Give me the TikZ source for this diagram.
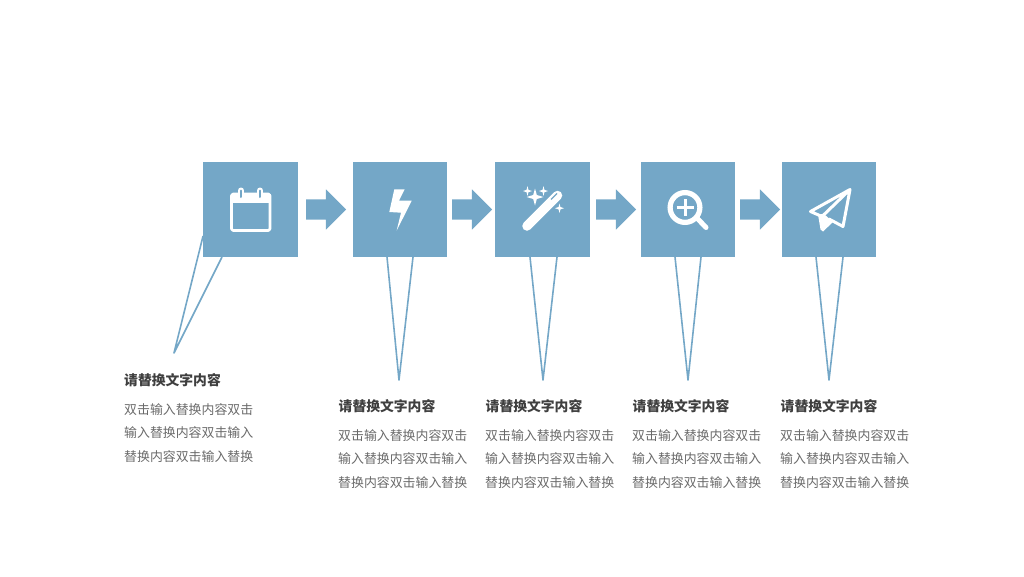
\documentclass[tikz,border=0pt]{standalone}
\usepackage{fontspec}
\newfontfamily\cjk{Noto Sans CJK SC}
\usetikzlibrary{shapes.arrows}
\definecolor{stepblue}{HTML}{74A7C7}
\definecolor{titlegray}{HTML}{3F3F3F}
\definecolor{bodygray}{HTML}{6A6A6A}

\begin{document}
\begin{tikzpicture}[x=1pt, y=-1pt,
		stepbox/.style={fill=stepblue, inner sep=0pt, minimum width=94.5pt, minimum height=95pt},
		steparrow/.style={single arrow, fill=stepblue, inner sep=0pt, text height=20pt, text depth=0pt, minimum height=40pt, single arrow head extend=10pt, single arrow tip angle=90},
		spike/.style={stepblue, line width=1.6pt, line join=round},
		headtext/.style={anchor=west, inner sep=0pt, text=titlegray, font=\cjk\fontsize{13.8}{16}\selectfont\bfseries},
		bodytext/.style={anchor=west, inner sep=0pt, align=left, text=bodygray, font=\cjk\fontsize{12.9}{23.5}\selectfont},
		iconline/.style={draw=white, line width=3pt, line join=round, line cap=round}]
	\useasboundingbox (0,0) rectangle (1024,576);

	% Draw the boxes
	\node[stepbox] (box1) at (250.5,209.5) {};
	\node[stepbox] (box2) at (400,209.5) {};
	\node[stepbox] (box3) at (542.5,209.5) {};
	\node[stepbox] (box4) at (688,209.5) {};
	\node[stepbox] (box5) at (829,209.5) {};

	% Draw the arrows between the boxes
	\node[steparrow] (arrow1) at (321,209.5) {};
	\node[steparrow] (arrow2) at (467,209.5) {};
	\node[steparrow] (arrow3) at (611,209.5) {};
	\node[steparrow] (arrow4) at (755,209.5) {};

	% Draw the spikes under the boxes
	\coordinate (tip1) at (174,353);
	\coordinate (tip2) at (399,380);
	\coordinate (tip3) at (543,380);
	\coordinate (tip4) at (688,380);
	\coordinate (tip5) at (829,380);
	\draw[spike] (box1.west |- 0,236) -- (tip1) -- (222,257);
	\draw[spike] (387,257) -- (tip2) -- (413,257);
	\draw[spike] (530,257) -- (tip3) -- (557,257);
	\draw[spike] (675,257) -- (tip4) -- (701,257);
	\draw[spike] (816,257) -- (tip5) -- (843,257);

	% Calendar
	\draw[iconline, line width=2.6pt, rounded corners=1.5pt] (231.5,194) rectangle (270,230.5);
	\fill[white] (231,194) rectangle (270.5,203);
	\draw[white, line width=6pt, line cap=round] (241,190.5) -- (241,197);
	\draw[white, line width=6pt, line cap=round] (260,190.5) -- (260,197);
	\draw[stepblue, line width=2pt, line cap=round] (241,190.5) -- (241,197);
	\draw[stepblue, line width=2pt, line cap=round] (260,190.5) -- (260,197);

	% Bolt
	\fill[white] (394.3,189.3) -- (404.6,189.3) -- (399,200.7) -- (411.7,200.7) -- (396.7,230.5) -- (401,212.7) -- (389.3,212) -- cycle;

	% Wand
	\draw[white, line width=9.5pt, line cap=round] (527,226) -- (557.5,195.5);
	\draw[stepblue, line width=1.2pt] (551,199.5) -- (557,193.5);
	\fill[white] (535,188.5) -- (536.8,195) -- (543.5,197) -- (536.8,199) -- (535,205.5) -- (533.2,199) -- (526.5,197) -- (533.2,195) -- cycle;
	\fill[white] (527.5,186) -- (528.4,189.8) -- (532,191) -- (528.4,192.2) -- (527.5,196) -- (526.6,192.2) -- (523,191) -- (526.6,189.8) -- cycle;
	\fill[white] (543.5,186) -- (544.4,189.8) -- (548,191) -- (544.4,192.2) -- (543.5,196) -- (542.6,192.2) -- (539,191) -- (542.6,189.8) -- cycle;
	\fill[white] (559.5,203.5) -- (560.4,207) -- (564,208.2) -- (560.4,209.4) -- (559.5,213) -- (558.6,209.4) -- (555,208.2) -- (558.6,207) -- cycle;

	% Magnifier
	\draw[white, line width=5.2pt] (685,207.5) circle (14.9);
	\draw[white, line width=5pt, line cap=round] (697,218) -- (706,227.5);
	\draw[white, line width=3pt] (676.5,207.5) -- (693.5,207.5);
	\draw[white, line width=3pt] (685,199) -- (685,216);

	% Plane
	\draw[iconline] (850,189.5) -- (810.5,211.5) -- (822,216.5) -- (850,189.5) -- (843,226.5) -- (829,219);
	\fill[white] (818,214.5) -- (824,214) -- (833,222) -- (823,231.5) -- (820.5,229.5) -- cycle;

	% Draw the labels
	\node[headtext] (head1) at (124,380) {请替换文字内容};
	\node[headtext] (head2) at (338.5,406) {请替换文字内容};
	\node[headtext] (head3) at (485.5,406) {请替换文字内容};
	\node[headtext] (head4) at (632.5,406) {请替换文字内容};
	\node[headtext] (head5) at (780.5,406) {请替换文字内容};

	\node[bodytext] (body1) at (124,433) {双击输入替换内容双击\\输入替换内容双击输入\\替换内容双击输入替换};
	\node[bodytext] (body2) at (338,459) {双击输入替换内容双击\\输入替换内容双击输入\\替换内容双击输入替换};
	\node[bodytext] (body3) at (485,459) {双击输入替换内容双击\\输入替换内容双击输入\\替换内容双击输入替换};
	\node[bodytext] (body4) at (632,459) {双击输入替换内容双击\\输入替换内容双击输入\\替换内容双击输入替换};
	\node[bodytext] (body5) at (780,459) {双击输入替换内容双击\\输入替换内容双击输入\\替换内容双击输入替换};
\end{tikzpicture}
\end{document}
